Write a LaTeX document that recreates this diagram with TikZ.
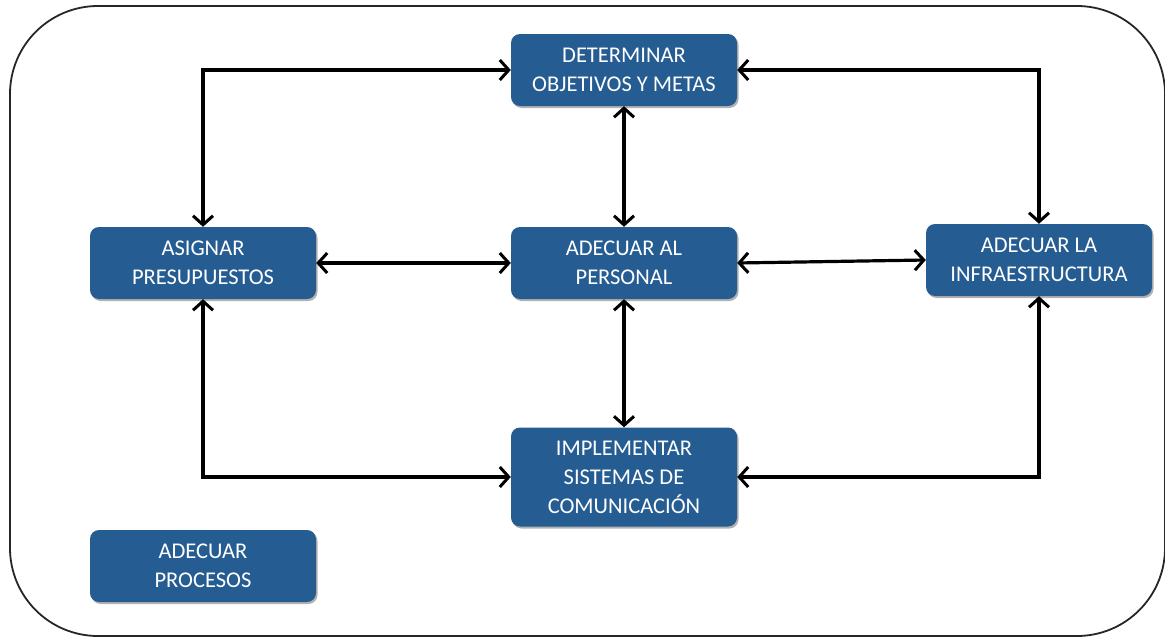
\documentclass[tikz,border=0pt]{standalone}
\usepackage{fontspec}
\setmainfont{Carlito}
\usetikzlibrary{arrows.meta,shadows}
\definecolor{boxblue}{HTML}{255C92}
\tikzset{
  stage/.style={fill=boxblue, rounded corners=9pt, minimum width=226pt,
    minimum height=72pt, align=center, text=white, font=\fontsize{22.5}{29}\selectfont,
    drop shadow={shadow xshift=1.5pt, shadow yshift=-2pt, opacity=0.3, fill=black}},
  barb/.style={Straight Barb[length=9pt,width=20pt,line width=3pt]},
  link/.style={line width=3.2pt, {Straight Barb[length=9pt,width=20pt,line width=3pt]}-{Straight Barb[length=9pt,width=20pt,line width=3pt]}},
}
\begin{document}
\begin{tikzpicture}[x=1pt,y=-1pt]
\useasboundingbox (0,0) rectangle (1165,640);
% outer frame
\draw[line width=1.8pt, draw=black!85, rounded corners=88pt] (10,6) rectangle (1165,636);

% stages
\node[stage] (obj)  at (624,70)  {DETERMINAR\\OBJETIVOS Y METAS};
\node[stage] (pres) at (203,263) {ASIGNAR\\PRESUPUESTOS};
\node[stage] (pers) at (624,263) {ADECUAR AL\\PERSONAL};
\node[stage] (infr) at (1039,260) {ADECUAR LA\\INFRAESTRUCTURA};
\node[stage, minimum height=99pt] (com) at (624,477) {IMPLEMENTAR\\SISTEMAS DE\\COMUNICACIÓN};
\node[stage] (proc) at (203,566) {ADECUAR\\PROCESOS};

% links
\draw[link] (pres.north) |- (obj.west);
\draw[link] (obj.east) -| (infr.north);
\draw[link] (obj.south) -- (pers.north);
\draw[link] (pres.east) -- (pers.west);
\draw[link] (pers.east) -- (infr.west);
\draw[link] (pers.south) -- (com.north);
\draw[link] (pres.south) |- (com.west);
\draw[link] (infr.south) |- (com.east);
\end{tikzpicture}
\end{document}
